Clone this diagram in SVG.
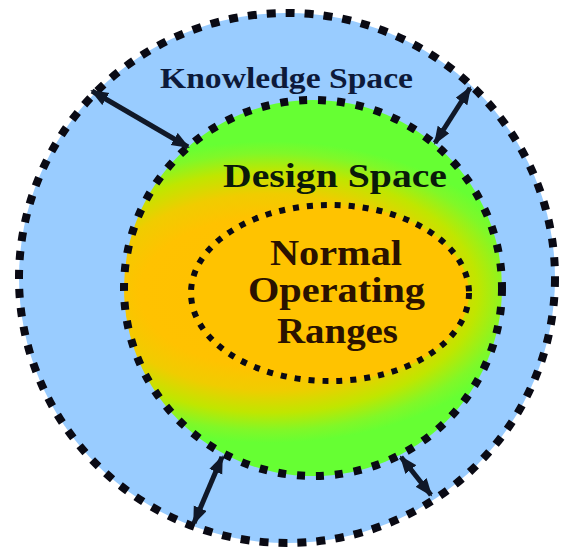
<svg xmlns="http://www.w3.org/2000/svg" width="564" height="553" viewBox="0 0 564 553">
  <defs>
    <radialGradient id="designGrad" gradientUnits="userSpaceOnUse" cx="270" cy="292" r="260" gradientTransform="translate(270 292) scale(1 0.58) translate(-270 -292)">
      <stop offset="0" stop-color="#ffc000"/>
      <stop offset="0.5" stop-color="#ffc200"/>
      <stop offset="0.65" stop-color="#f0cc00"/>
      <stop offset="0.8" stop-color="#c0e600"/>
      <stop offset="0.92" stop-color="#80f828"/>
      <stop offset="1" stop-color="#66ff33"/>
    </radialGradient>
    <marker id="head" markerUnits="userSpaceOnUse" markerWidth="20" markerHeight="16" refX="16" refY="7" orient="auto-start-reverse">
      <path d="M0,0 L18,7 L0,14 z" fill="#101828"/>
    </marker>
  </defs>
  <style>
    .ring { stroke: #0a0a14; fill: none; }
    .outer { stroke-width: 8; stroke-dasharray: 9 10; }
    .mid { stroke-width: 8; stroke-dasharray: 8 11; }
    .inner { stroke-width: 6; stroke-dasharray: 6 8; }
    .lbl { font-family: "Liberation Serif", "Times New Roman", serif; font-weight: bold; }
    .arrow { stroke: #101828; stroke-width: 5; fill: none; marker-start: url(#head); marker-end: url(#head); }
  </style>
  <rect width="564" height="553" fill="#ffffff"/>

  <g id="knowledge-space">
    <ellipse cx="287" cy="278" rx="268" ry="265" fill="#99ccff"/>
    <ellipse class="ring outer" cx="287" cy="278" rx="268" ry="265"/>
    <text class="lbl" x="160" y="88" font-size="30" fill="#0d1a3a" textLength="253" lengthAdjust="spacingAndGlyphs">Knowledge Space</text>
  </g>

  <g id="design-space">
    <ellipse cx="313" cy="288" rx="189" ry="188" fill="url(#designGrad)"/>
    <ellipse class="ring mid" cx="313" cy="288" rx="189" ry="188"/>
    <text class="lbl" x="223" y="187" font-size="33" fill="#0a1a0a" textLength="224" lengthAdjust="spacingAndGlyphs">Design Space</text>
  </g>

  <g id="normal-operating-ranges">
    <ellipse cx="330" cy="293" rx="139" ry="88" fill="#ffc300"/>
    <ellipse class="ring inner" cx="330" cy="293" rx="139" ry="88"/>
    <text class="lbl" x="270" y="265" font-size="35" fill="#2a1200" textLength="132" lengthAdjust="spacingAndGlyphs">Normal</text>
    <text class="lbl" x="248" y="302" font-size="35" fill="#2a1200" textLength="177" lengthAdjust="spacingAndGlyphs">Operating</text>
    <text class="lbl" x="277" y="343" font-size="35" fill="#2a1200" textLength="121" lengthAdjust="spacingAndGlyphs">Ranges</text>
  </g>

  <g id="connectors">
    <line class="arrow" x1="92" y1="91" x2="188" y2="147"/>
    <line class="arrow" x1="470" y1="88" x2="435" y2="143"/>
    <line class="arrow" x1="222" y1="457" x2="194" y2="523"/>
    <line class="arrow" x1="401" y1="457" x2="431" y2="495"/>
  </g>
</svg>
